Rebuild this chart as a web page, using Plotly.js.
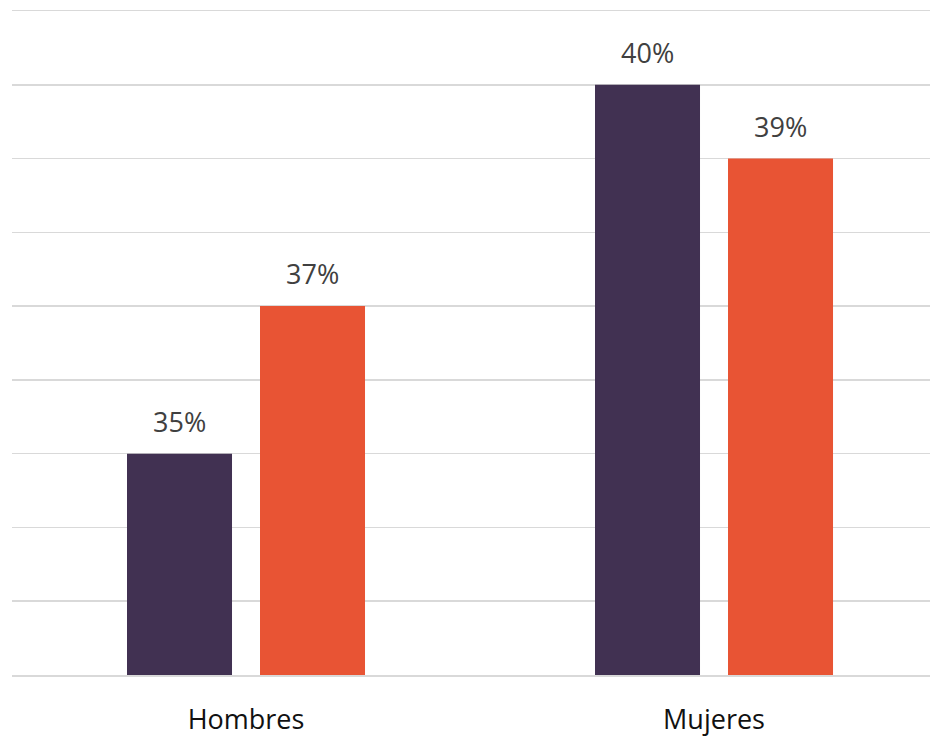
<!DOCTYPE html>
<html>
<head>
<meta charset="utf-8">
<script src="https://cdn.plot.ly/plotly-3.0.1.min.js"></script>
<style>html,body{margin:0;padding:0;background:#fff;}#chart{width:930px;height:736px;}</style>
</head>
<body>
<div id="chart"></div>
<script>
const categories = ["Hombres", "Mujeres"];
const seriesA = [35, 40];
const seriesB = [37, 39];
const yTicks = [32, 33, 34, 35, 36, 37, 38, 39, 40, 41];

const colorA = "#413152";
const colorB = "#E85434";

const traces = [
  {type: "bar", x: categories, y: seriesA, name: "A", marker: {color: colorA}, hoverinfo: "none"},
  {type: "bar", x: categories, y: seriesB, name: "B", marker: {color: colorB}, hoverinfo: "none"}
];

const annotations = [];
[seriesA, seriesB].forEach((s, si) => {
  s.forEach((v, i) => {
    annotations.push({
      x: categories[i], y: v, xref: "x", yref: "y",
      text: v + "%", showarrow: false, yanchor: "bottom",
      xshift: si === 0 ? -66.5 : 66.5, yshift: 12,
      font: {family: "Open Sans, sans-serif", size: 27, color: "#404040"}
    });
  });
});

const layout = {
  width: 930, height: 736,
  margin: {l: 12, r: 0, t: 11, b: 61},
  paper_bgcolor: "#fff", plot_bgcolor: "#fff",
  showlegend: false,
  barmode: "group",
  bargap: 0.4316,
  bargroupgap: 0.2105,
  xaxis: {
    type: "category", range: [-0.5, 1.4615], fixedrange: true,
    showgrid: false, zeroline: false,
    showline: true, mirror: true, linecolor: "#d9d9d9", linewidth: 1.5,
    ticks: "", ticklabelstandoff: 20,
    tickfont: {family: "Open Sans, sans-serif", size: 27, color: "#111"}
  },
  yaxis: {
    range: [32, 41], tickvals: yTicks, showticklabels: false,
    showgrid: true, gridcolor: "#d9d9d9", gridwidth: 1.5,
    zeroline: false, showline: false, fixedrange: true
  },
  annotations: annotations,
  font: {family: "Open Sans, sans-serif"}
};

Plotly.newPlot("chart", traces, layout, {displayModeBar: false, staticPlot: true});
</script>
</body>
</html>
